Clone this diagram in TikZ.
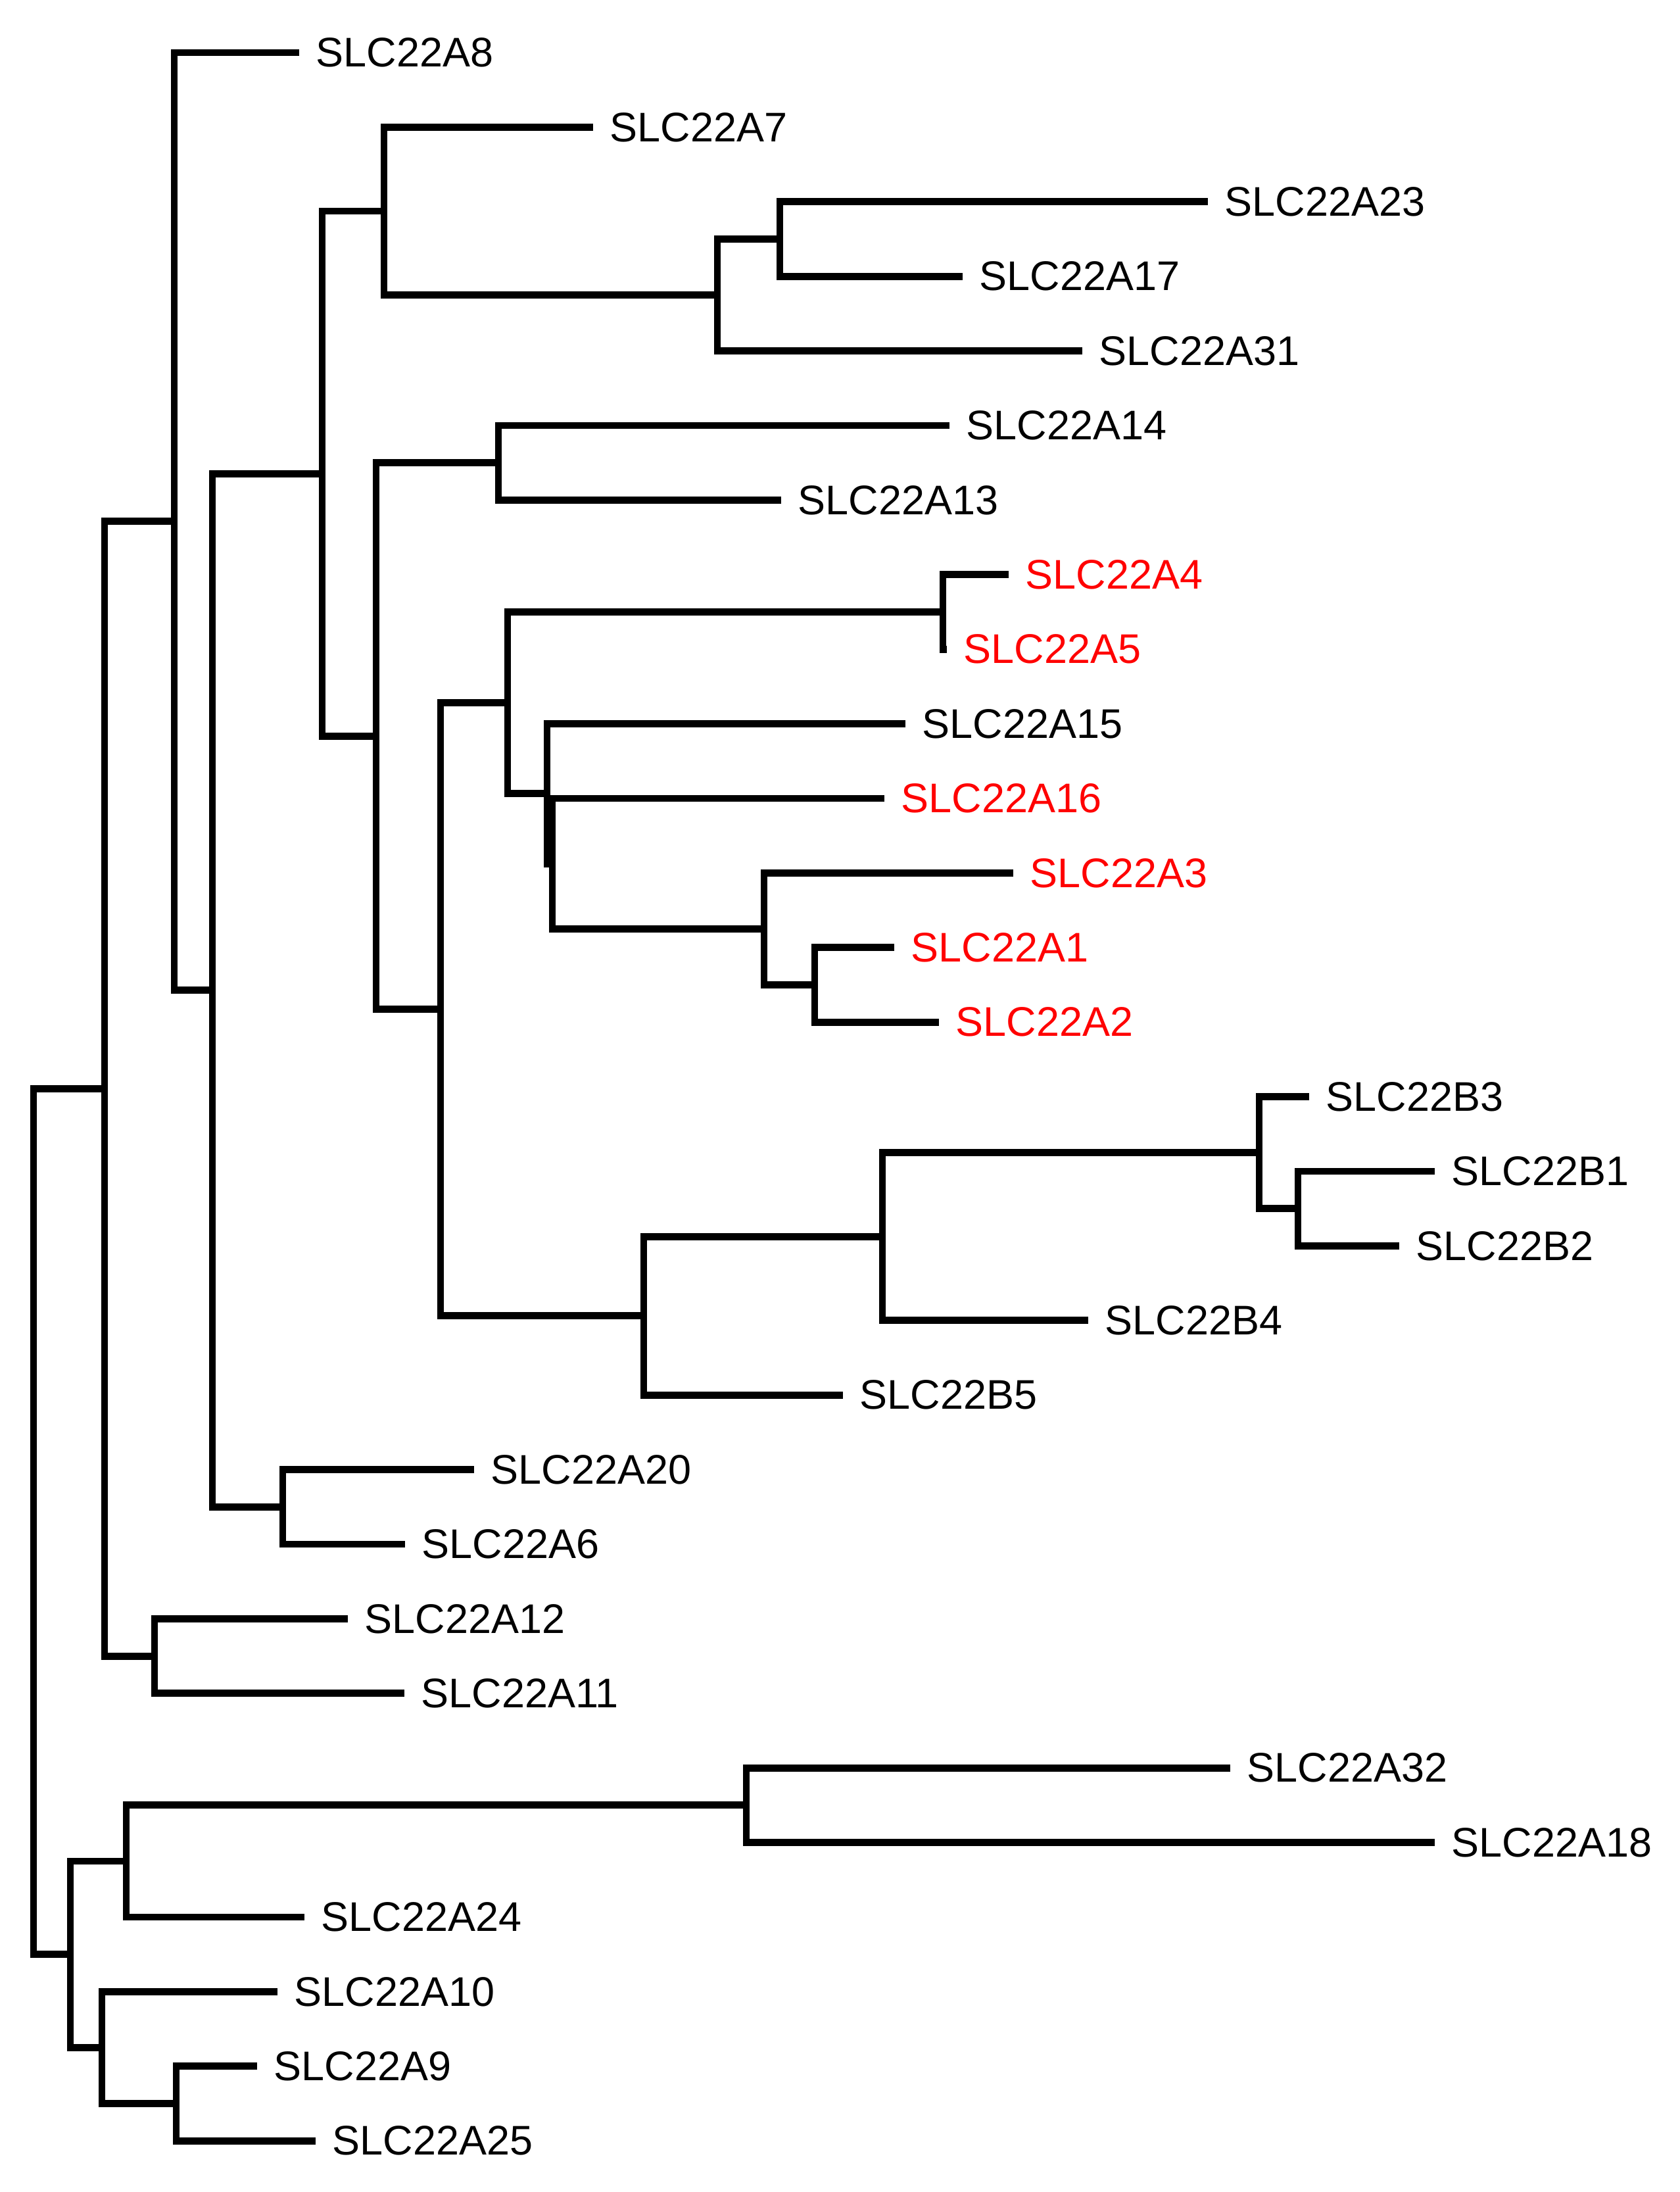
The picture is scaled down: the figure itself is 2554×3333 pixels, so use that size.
\documentclass[tikz,border=0pt]{standalone}
\usepackage{fontspec}
\setmainfont{Liberation Sans}
\begin{document}
\begin{tikzpicture}[x=0.01cm,y=-0.01cm,
  br/.style={line width=3.1pt, line join=miter, line cap=butt},
  lab/.style={anchor=west, inner sep=0pt, xshift=0.25cm, font=\fontsize{17.9}{20}\selectfont}]
\useasboundingbox (0,0) rectangle (2554,3333);
% leaf tips and labels
\foreach \n/\x/\y/\s in {A8/455/80/black, A7/902/193.4/black, A23/1837/306.8/black,
  A17/1464/420.2/black, A31/1646/533.6/black, A14/1444/647/black, A13/1188/760.4/black,
  A4/1534/873.8/red, A5/1440/987.2/red, A15/1377/1100.6/black, A16/1345/1214/red,
  A3/1541/1327.4/red, A1/1360/1440.8/red, A2/1428/1554.2/red, B3/1991/1667.6/black,
  B1/2182/1781/black, B2/2128/1894.4/black, B4/1655/2007.8/black, B5/1282/2121.2/black,
  A20/721/2234.6/black, A6/616/2348/black, A12/529/2461.4/black, A11/615/2574.8/black,
  A32/1871/2688.2/black, A18/2182/2801.6/black, A24/463/2915/black, A10/422/3028.4/black,
  A9/391/3141.8/black, A25/480/3255.2/black}{
  \coordinate (t\n) at (\x,\y);
  \node[lab, text=\s] (l\n) at (t\n) {SLC22\n};
}
% internal nodes
\coordinate (G) at (1186,363.5);
\coordinate (F) at (1091,448.55);
\coordinate (E) at (584,321);
\coordinate (I) at (758,703.7);
\coordinate (L) at (1434,930.5);
\coordinate (O) at (1239,1497.5);
\coordinate (N) at (1162,1412.45);
\coordinate (M2) at (840,1313.2);
\coordinate (M1) at (832,1206.9);
\coordinate (K) at (772,1068.7);
\coordinate (S) at (1974,1837.7);
\coordinate (R) at (1915,1752.65);
\coordinate (Q) at (1342,1880.2);
\coordinate (P) at (979,2000.7);
\coordinate (J) at (670,1534.7);
\coordinate (H) at (572,1119.2);
\coordinate (D) at (490,720.1);
\coordinate (T) at (430,2291.3);
\coordinate (C) at (323,1505.7);
\coordinate (B) at (265,792.85);
\coordinate (U) at (235,2518.1);
\coordinate (A) at (159,1655.5);
\coordinate (X) at (1135,2744.9);
\coordinate (W) at (192,2830);
\coordinate (Z) at (268,3198.5);
\coordinate (Y) at (155,3113.4);
\coordinate (V) at (107,2971.7);
\coordinate (root) at (51,2313.6);
% branches
\draw[br] (tA23) -| (G) |- (tA17);
\draw[br] (G) -| (F) |- (tA31);
\draw[br] (tA7) -| (E) |- (F);
\draw[br] (tA14) -| (I) |- (tA13);
\draw[br] (tA4) -| (L) |- (tA5);
\draw[br] (tA1) -| (O) |- (tA2);
\draw[br] (tA3) -| (N) |- (O);
\draw[br] (tA16) -| (M2) |- (N);
\draw[br] (tA15) -| (M1) |- (M2);
\draw[br] (L) -| (K) |- (M1);
\draw[br] (tB1) -| (S) |- (tB2);
\draw[br] (tB3) -| (R) |- (S);
\draw[br] (R) -| (Q) |- (tB4);
\draw[br] (Q) -| (P) |- (tB5);
\draw[br] (K) -| (J) |- (P);
\draw[br] (I) -| (H) |- (J);
\draw[br] (E) -| (D) |- (H);
\draw[br] (tA20) -| (T) |- (tA6);
\draw[br] (D) -| (C) |- (T);
\draw[br] (tA8) -| (B) |- (C);
\draw[br] (tA12) -| (U) |- (tA11);
\draw[br] (B) -| (A) |- (U);
\draw[br] (tA32) -| (X) |- (tA18);
\draw[br] (X) -| (W) |- (tA24);
\draw[br] (tA9) -| (Z) |- (tA25);
\draw[br] (tA10) -| (Y) |- (Z);
\draw[br] (W) -| (V) |- (Y);
\draw[br] (A) -| (root) |- (V);
\end{tikzpicture}
\end{document}
